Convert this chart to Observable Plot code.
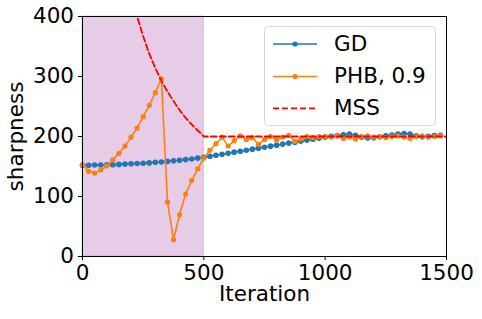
<!DOCTYPE html>
<html><head><meta charset="utf-8">
<script src="https://cdn.jsdelivr.net/npm/d3@7"></script>
<script src="https://cdn.jsdelivr.net/npm/@observablehq/plot@0.6"></script>
<style>
body{margin:0;background:#fff;}
#wrap{position:relative;width:482px;height:319px;}
#legend{position:absolute;left:0;top:0;}
</style>
</head><body><div id="wrap"></div>
<script>
const iterations = [0,25,50,75,100,125,150,175,200,225,250,275,300,325,350,375,400,425,450,475,
  500,525,550,575,600,625,650,675,700,725,750,775,800,825,850,875,900,925,950,975,
  1000,1025,1050,1075,1100,1125,1150,1175,1200,1225,1250,1275,1300,1325,1350,1375,1400,1425,1450,1475];
const gdValues = [152,152,152.5,152.5,153,153,153.5,154,154.5,155,155.5,156,157,157.5,158.5,159.5,160.5,161.5,162.5,164,
  165.5,167,168.8,170.5,172.2,173.9,175.5,177.2,178.9,180.6,182.2,183.9,185.6,187.3,189,190.6,192.3,194,195.6,197.3,
  199,200.5,201.5,203,204,202,199,197.5,198,199.5,201,202.5,204,205,204,201,199.5,200.5,201.5,202];
const phbValues = [153,142,139,144,151,161,172,184,199,214,233,252,273,296,91,28,70,104,127,146,
  164,177,188,199,184,193,201,195,198,187,195,200,194,199,202,192,196,200,198,200,
  200,199,201,197,199,196,200,201,199,200,198,200,201,199,197,200,201,199,200,201];
const mssIterations = [200,225,250,275,300,325,350,375,400,425,450,475,500,1500];
const mssValues = [440,400,367,338,314,293,275,259,244,231,220,210,200,200];
const shadeStart = [0];
const shadeEnd = [500];
const xTicks = [0,500,1000,1500];
const yTicks = [0,100,200,300,400];
const seriesNames = ["GD","PHB, 0.9","MSS"];
const seriesColors = ["#1f77b4","#ff7f0e","#ff0000"];

const gd = iterations.map((x,i)=>({x, y: gdValues[i]}));
const phb = iterations.map((x,i)=>({x, y: phbValues[i]}));
const mss = mssIterations.map((x,i)=>({x, y: mssValues[i]}));
const shade = shadeStart.map((s,i)=>({x1:s, x2:shadeEnd[i]}));

const FS = 21.5;
const chart = Plot.plot({
  width:482, height:319,
  marginLeft:82, marginRight:36, marginTop:16, marginBottom:63,
  style:{fontFamily:"DejaVu Sans", fontSize:FS+"px", background:"white", color:"black", overflow:"visible"},
  x:{domain:[0,1500]},
  y:{domain:[0,400]},
  marks:[
    Plot.rect(shade, {x1:"x1", x2:"x2", fill:"purple", fillOpacity:0.2, stroke:"purple", strokeOpacity:0.2}),
    Plot.line(gd, {x:"x", y:"y", stroke:seriesColors[0], strokeWidth:1.6}),
    Plot.dot(gd, {x:"x", y:"y", fill:seriesColors[0], r:2.8, stroke:null}),
    Plot.line(phb, {x:"x", y:"y", stroke:seriesColors[1], strokeWidth:1.6}),
    Plot.dot(phb, {x:"x", y:"y", fill:seriesColors[1], r:2.6, stroke:null}),
    Plot.line(mss, {x:"x", y:"y", stroke:seriesColors[2], strokeWidth:1.8, strokeDasharray:"6,3", clip:true}),
    Plot.frame({stroke:"black", strokeWidth:1}),
    Plot.axisX({ticks:xTicks, tickSize:4, tickPadding:4, label:null, tickFormat:d=>String(d), fontSize:FS}),
    Plot.axisY({ticks:yTicks, tickSize:4, tickPadding:4.5, label:null, tickFormat:d=>String(d), fontSize:FS}),
    Plot.text(["Iteration"], {frameAnchor:"bottom", dy:44, text:d=>d, fontSize:FS}),
    Plot.text(["sharpness"], {frameAnchor:"left", dx:-66, rotate:-90, textAnchor:"middle", text:d=>d, fontSize:FS})
  ]
});
const wrap = document.getElementById("wrap");
wrap.appendChild(chart);

// legend overlay (inside the axes, upper right)
const lg = d3.select(wrap).append("svg").attr("id","legend").attr("width",482).attr("height",319)
  .style("font-family","DejaVu Sans").style("font-size",FS+"px");
lg.append("rect").attr("x",264.5).attr("y",26.5).attr("width",171).attr("height",99).attr("rx",4)
  .attr("fill","white").attr("fill-opacity",0.8).attr("stroke","#d6d6d6");
const rowsY = [44,76.5,108.3];
seriesNames.forEach((name,i)=>{
  const y = rowsY[i];
  const line = lg.append("line").attr("x1",273).attr("x2",317).attr("y1",y).attr("y2",y)
    .attr("stroke",seriesColors[i]).attr("stroke-width",1.7);
  if (i===2) line.attr("stroke-dasharray","6,3");
  else lg.append("circle").attr("cx",295).attr("cy",y).attr("r",2.6).attr("fill",seriesColors[i]);
  lg.append("text").attr("x",334).attr("y",y).attr("dy","0.32em").attr("fill","black").text(name);
});
</script></body></html>
